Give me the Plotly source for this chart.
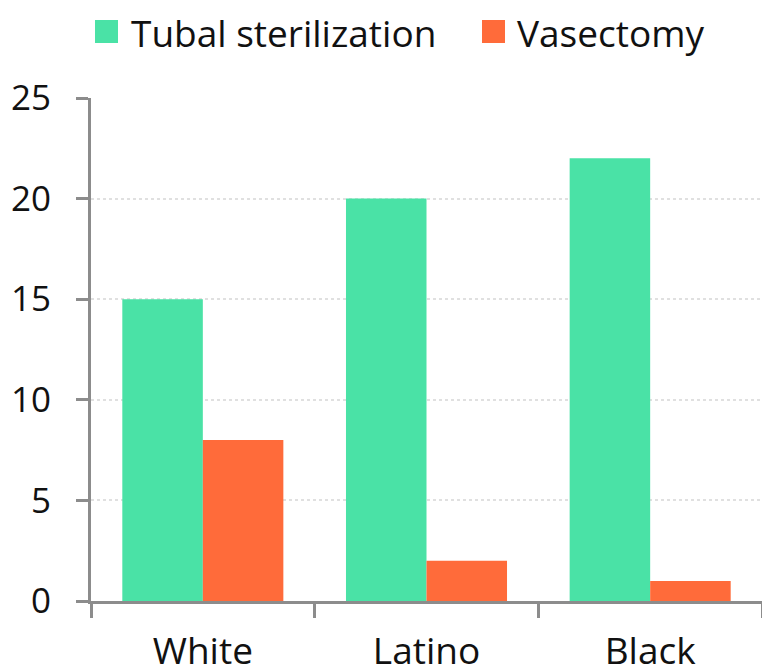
import plotly.graph_objects as go

groups = ["White", "Latino", "Black"]
tubal = [15, 20, 22]
vasectomy = [8, 2, 1]
y_ticks = [0, 5, 10, 15, 20, 25]
series_names = ["Tubal sterilization", "Vasectomy"]
series_colors = ["#4ae2a6", "#ff6b3a"]

FONT = "Open Sans"
AXIS = "#8c8c8c"
W, H = 762, 670
L, R, T, B = 91, 0, 98, 69

fig = go.Figure()
for name, vals, col in zip(series_names, [tubal, vasectomy], series_colors):
    fig.add_trace(go.Bar(name=name, x=groups, y=vals,
                         marker=dict(color=col, line=dict(width=0)),
                         showlegend=False))

# pixel -> paper helpers for the hand-built legend above the plot
pw, ph = W - L - R, H - T - B
def px(x):
    return (x - L) / pw
def py(y):
    return (H - B - y) / ph

legend_items = [(95, 129), (482, 515)]  # marker left, text left (pixels)
for (mx, tx), name, col in zip(legend_items, series_names, series_colors):
    fig.add_shape(type="rect", xref="paper", yref="paper",
                  x0=px(mx), x1=px(mx + 23), y0=py(43), y1=py(20),
                  fillcolor=col, line=dict(width=0))
    fig.add_annotation(xref="paper", yref="paper", x=px(tx), y=py(32),
                       xanchor="left", yanchor="middle", showarrow=False,
                       text=name, font=dict(family=FONT, size=37, color="#111"))

fig.update_layout(
    width=W, height=H,
    margin=dict(l=L, r=R, t=T, b=B, autoexpand=False),
    paper_bgcolor="white", plot_bgcolor="white",
    barmode="group", bargap=0.28, bargroupgap=0,
    font=dict(family=FONT, size=36, color="#111"),
    showlegend=False,
)
fig.update_xaxes(
    automargin=False,
    showline=True, linecolor=AXIS, linewidth=3,
    ticks="outside", tickson="boundaries", ticklen=14, tickwidth=3, tickcolor=AXIS,
    tickfont=dict(size=37), showgrid=False, ticklabelstandoff=16,
)
fig.update_yaxes(
    automargin=False,
    range=[0, 25], tickvals=y_ticks,
    showline=True, linecolor=AXIS, linewidth=3,
    ticks="outside", ticklen=12, tickwidth=3, tickcolor=AXIS,
    tickfont=dict(size=35), ticklabelstandoff=18,
    showgrid=True, gridcolor="#e0e0e0", gridwidth=2, griddash="dot",
    zeroline=False,
)

fig.write_html("out.html")
